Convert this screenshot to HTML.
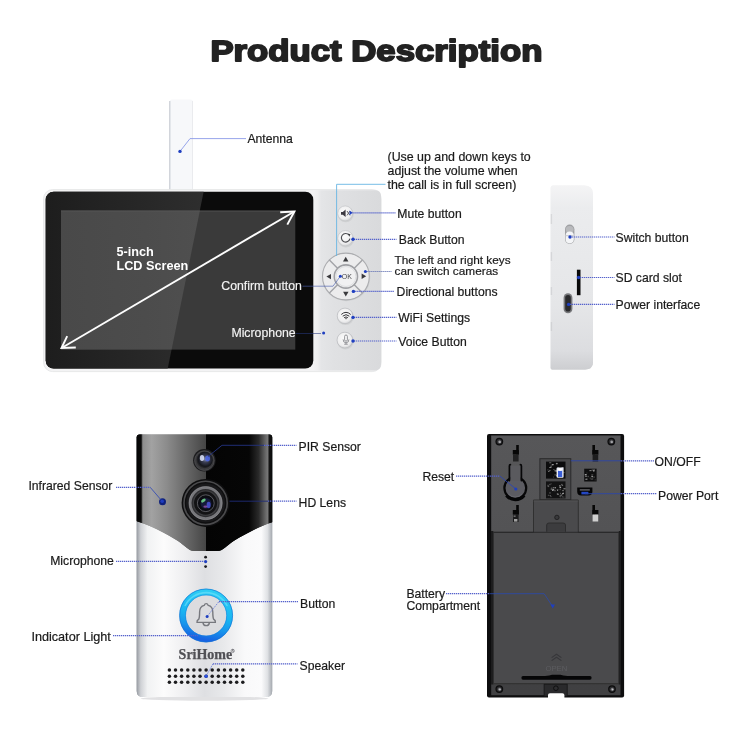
<!DOCTYPE html>
<html>
<head>
<meta charset="utf-8">
<title>Product Description</title>
<style>
html,body{margin:0;padding:0;background:#fff;}
body{width:750px;height:750px;overflow:hidden;position:relative;font-family:"Liberation Sans",sans-serif;}
svg{position:absolute;left:0;top:0;display:block;will-change:transform;}
text{font-family:"Liberation Sans",sans-serif;}
.lbl{font-size:12.2px;fill:#1a1a1a;stroke:#1a1a1a;stroke-width:0.2px;}
.wl{font-size:13px;fill:#fff;}
.dot{stroke:#5562cc;stroke-width:1.2;stroke-dasharray:1.3 0.7;fill:none;}
.pt{fill:#1f3fc0;}
</style>
</head>
<body>
<svg width="750" height="750" viewBox="0 0 750 750">
<defs>
  <linearGradient id="gScreen" x1="0" y1="0" x2="1" y2="0">
    <stop offset="0" stop-color="#4a4a4a"/>
    <stop offset="0.55" stop-color="#404040"/>
    <stop offset="0.56" stop-color="#333"/>
    <stop offset="1" stop-color="#2c2c2c"/>
  </linearGradient>
  <linearGradient id="gSilver" x1="0" y1="0" x2="1" y2="0">
    <stop offset="0" stop-color="#9aa0a6"/>
    <stop offset="0.08" stop-color="#e8eaec"/>
    <stop offset="0.5" stop-color="#f4f5f6"/>
    <stop offset="0.92" stop-color="#d4d7da"/>
    <stop offset="1" stop-color="#8e949a"/>
  </linearGradient>
  <linearGradient id="gSide" x1="0" y1="0" x2="1" y2="0">
    <stop offset="0" stop-color="#d8dadd"/>
    <stop offset="0.3" stop-color="#eceded"/>
    <stop offset="1" stop-color="#e4e5e7"/>
  </linearGradient>
  <linearGradient id="gPanel" x1="0" y1="0" x2="1" y2="0">
    <stop offset="0" stop-color="#f3f3f4"/>
    <stop offset="0.07" stop-color="#eeeeef"/>
    <stop offset="0.12" stop-color="#e4e5e7"/>
    <stop offset="0.3" stop-color="#e0e1e3"/>
    <stop offset="1" stop-color="#d9dadc"/>
  </linearGradient>
  <linearGradient id="gBezelL" gradientUnits="userSpaceOnUse" x1="45" y1="0" x2="205" y2="0">
    <stop offset="0" stop-color="#1d1d1d"/>
    <stop offset="1" stop-color="#2e2e2e"/>
  </linearGradient>
  <linearGradient id="gScrL" gradientUnits="userSpaceOnUse" x1="61" y1="0" x2="201" y2="0">
    <stop offset="0" stop-color="#494949"/>
    <stop offset="0.6" stop-color="#4c4c4c"/>
    <stop offset="1" stop-color="#4f4f4f"/>
  </linearGradient>
</defs>

<!-- TITLE -->
<g id="title">
<text transform="translate(210.4 61) scale(1.178 1)" x="0" y="0" font-size="29.5" font-weight="bold" fill="#222" stroke="#222" stroke-width="1.8" stroke-linejoin="round">Product Description</text>
</g>

<!-- MONITOR -->
<g id="monitor">
  <!-- antenna -->
  <rect x="169.5" y="99.5" width="23.5" height="96" rx="2.5" fill="#f7f8fa"/>
  <rect x="169.2" y="101" width="1.2" height="92" fill="#c9ccd4"/>
  <rect x="192.2" y="101" width="0.8" height="92" fill="#e6e8ec"/>
  <!-- body -->
  <rect x="43.6" y="189.6" width="337.6" height="182" rx="9" fill="#f3f3f4" stroke="#e2e3e5" stroke-width="0.8"/>
  <path d="M313 190.2 H375 Q381 190.2 381 196 V364.6 Q381 370.4 375 370.4 H313 Z" fill="url(#gPanel)"/>
  <!-- bezel -->
  <clipPath id="cpBezel"><rect x="45.7" y="191.7" width="267.6" height="176.8" rx="8"/></clipPath>
  <rect x="45.7" y="191.7" width="267.6" height="176.8" rx="8" fill="#0b0b0b"/>
  <g clip-path="url(#cpBezel)">
    <path d="M40 185 H205 L167 372 H40 Z" fill="url(#gBezelL)"/>
    <rect x="61" y="210.4" width="234.3" height="139.2" fill="#3a3a3a"/>
    <clipPath id="cpScr"><rect x="61" y="210.4" width="234.3" height="139.2"/></clipPath>
    <g clip-path="url(#cpScr)">
      <path d="M55 205 H201 L170.5 355 H55 Z" fill="url(#gScrL)"/>
      <rect x="61" y="210.4" width="234.3" height="1.2" fill="#5a5a5a" opacity="0.6"/>
    </g>
  </g>
  <!-- diagonal arrow -->
  <g stroke="#fdfdfd" stroke-width="1.9" fill="none" stroke-linecap="butt" stroke-linejoin="miter">
    <line x1="62" y1="347.7" x2="294" y2="211.7"/>
    <polyline points="280.2,212.2 294.4,211.5 287.3,224.6"/>
    <polyline points="67.2,336.2 61.5,348 75.8,347.5"/>
  </g>
  <text x="116.4" y="256.4" font-size="12.7" font-weight="bold" fill="#fff">5-inch</text>
  <text x="116.4" y="269.6" font-size="12.7" font-weight="bold" fill="#fff">LCD Screen</text>
  <text x="221.3" y="290.1" font-size="12.3" fill="#f4f4f4" stroke="#f4f4f4" stroke-width="0.15">Confirm button</text>
  <text x="231.4" y="337.1" font-size="12.3" fill="#f4f4f4" stroke="#f4f4f4" stroke-width="0.15">Microphone</text>
</g>

<!-- BUTTONS -->
<g id="buttons">
  <defs>
    <radialGradient id="gBtn" cx="0.45" cy="0.4" r="0.6">
      <stop offset="0" stop-color="#fbfbfb"/>
      <stop offset="0.75" stop-color="#eeeeef"/>
      <stop offset="1" stop-color="#d4d5d7"/>
    </radialGradient>
  </defs>
  <!-- mute -->
  <circle cx="345.7" cy="214.3" r="8" fill="#c9cacc" opacity="0.7"/>
  <circle cx="345.2" cy="213.4" r="7.5" fill="url(#gBtn)" stroke="#c4c5c8" stroke-width="0.7"/>
  <path d="M341 211.9 h1.8 l2.8 -2.4 v7.6 l-2.8 -2.4 h-1.8 z" fill="#3c3a42"/>
  <path d="M347 211 l3 4.4 M350 211 l-3 4.4" stroke="#55555c" stroke-width="0.9" fill="none"/>
  <!-- back -->
  <circle cx="345.9" cy="239.2" r="8.2" fill="#c9cacc" opacity="0.7"/>
  <circle cx="345.4" cy="238.2" r="7.7" fill="url(#gBtn)" stroke="#c4c5c8" stroke-width="0.7"/>
  <path d="M348.9 234.9 A4.3 4.3 0 1 0 349.9 238.6" stroke="#4c4d51" stroke-width="1.15" fill="none"/>
  <path d="M347.6 233.4 l2.8 0.8 l-1 2.6 z" fill="#3a3b3f"/>
  <!-- dpad -->
  <circle cx="346.3" cy="277.2" r="24" fill="#c8c9cb" opacity="0.6"/>
  <circle cx="345.9" cy="276.5" r="23.4" fill="#ececed" stroke="#acadb0" stroke-width="1.1"/>
  <g stroke="#a2a3a7" stroke-width="1.4">
    <line x1="329.4" y1="260" x2="337.8" y2="268.4"/>
    <line x1="362.4" y1="260" x2="354" y2="268.4"/>
    <line x1="329.4" y1="293" x2="337.8" y2="284.6"/>
    <line x1="362.4" y1="293" x2="354" y2="284.6"/>
  </g>
  <circle cx="345.9" cy="276.5" r="11.6" fill="#f1f1f2" stroke="#9fa0a4" stroke-width="1.6"/><circle cx="345.9" cy="276.5" r="10" fill="none" stroke="#dedfe1" stroke-width="1"/>
  <path d="M345.7 256.8 l2.7 4.6 h-5.4 z" fill="#3a3a3d"/>
  <path d="M345.8 296.4 l2.7 -4.6 h-5.4 z" fill="#3a3a3d"/>
  <path d="M326.4 276.6 l4.6 -2.7 v5.4 z" fill="#3a3a3d"/>
  <path d="M366.2 276.2 l-4.6 -2.7 v5.4 z" fill="#3a3a3d"/>
  <text x="346.8" y="279.1" font-size="7" fill="#4a4a4e" text-anchor="middle">OK</text>
  <!-- wifi -->
  <circle cx="345.5" cy="316.8" r="8.3" fill="#c9cacc" opacity="0.7"/>
  <circle cx="345" cy="315.9" r="7.8" fill="url(#gBtn)" stroke="#bdbec1" stroke-width="0.8"/>
  <g stroke="#333337" stroke-width="1" fill="none" stroke-linecap="round">
    <path d="M341.6 314.2 Q346 310.2 350.4 314.2"/>
    <path d="M343 315.9 Q346 313.2 349 315.9"/>
    <path d="M344.4 317.5 Q346 316.1 347.6 317.5"/>
  </g>
  <path d="M345 318.2 h2 l-1 1.4 z" fill="#222226"/>
  <!-- voice -->
  <circle cx="345.4" cy="341" r="8.4" fill="#c9cacc" opacity="0.7"/>
  <circle cx="344.9" cy="340.1" r="7.9" fill="url(#gBtn)" stroke="#bdbec1" stroke-width="0.8"/>
  <rect x="344.6" y="335" width="2.8" height="6.2" rx="1.4" fill="none" stroke="#7e7f84" stroke-width="0.8"/>
  <path d="M343.1 339.4 Q343.1 342.8 346 342.8 Q348.9 342.8 348.9 339.4 M346 342.8 v1.4 M344.2 344.2 h3.6" stroke="#7e7f84" stroke-width="0.8" fill="none"/>
</g>

<!-- SIDE VIEW -->
<g id="side">
  <defs>
    <linearGradient id="gSideV" x1="0" y1="0" x2="0" y2="1">
      <stop offset="0" stop-color="#f4f4f5"/>
      <stop offset="0.12" stop-color="#ebecee"/>
      <stop offset="0.65" stop-color="#e5e6e8"/>
      <stop offset="0.9" stop-color="#dcdde0"/>
      <stop offset="1" stop-color="#cdced1"/>
    </linearGradient>
    <linearGradient id="gSideH" x1="0" y1="0" x2="1" y2="0">
      <stop offset="0" stop-color="#9a9ba0" stop-opacity="0.5"/>
      <stop offset="0.05" stop-color="#c0c1c5" stop-opacity="0.2"/>
      <stop offset="0.18" stop-color="#ffffff" stop-opacity="0"/>
      <stop offset="0.85" stop-color="#ffffff" stop-opacity="0.15"/>
      <stop offset="1" stop-color="#ffffff" stop-opacity="0.4"/>
    </linearGradient>
  </defs>
  <path id="sideBody" d="M550.7 187.4 Q550.7 185.4 553 185.4 H584 Q593 185.4 593 194 V362 Q593 369.4 585 369.4 H552 Q550.7 369.4 550.7 368 Z" fill="url(#gSideV)"/>
  <use href="#sideBody" fill="url(#gSideH)"/>
  <g fill="#b4b5b9" opacity="0.35"><rect x="550.7" y="214" width="1.4" height="10"/><rect x="550.7" y="252" width="1.4" height="9"/><rect x="550.7" y="287" width="1.4" height="8"/><rect x="550.7" y="322" width="1.4" height="9"/></g>
  <!-- switch -->
  <rect x="565" y="224.6" width="9.4" height="19.4" rx="4.7" fill="#9fa0a3"/>
  <rect x="565.8" y="226" width="7.8" height="7" rx="3.6" fill="#b9babd"/>
  <rect x="565.6" y="231.4" width="8.2" height="12" rx="4.1" fill="#f4f5f7"/>
  <rect x="565.6" y="235.2" width="8.2" height="1" fill="#c6c7cc"/>
  <!-- sd -->
  <rect x="576.9" y="269.7" width="3.6" height="25.5" fill="#0a0a0a"/>
  <!-- power -->
  <rect x="563.6" y="293.3" width="8.8" height="20" rx="4.4" fill="#77787b"/>
  <rect x="565.2" y="295" width="5.6" height="16.6" rx="2.8" fill="#2a2a2c"/>
</g>

<!-- DOORBELL FRONT -->
<g id="front">
  <defs>
    <linearGradient id="gSilv" gradientUnits="userSpaceOnUse" x1="136.7" y1="0" x2="272.2" y2="0">
      <stop offset="0" stop-color="#979ba2"/>
      <stop offset="0.03" stop-color="#cfd1d5"/>
      <stop offset="0.08" stop-color="#f1f2f3"/>
      <stop offset="0.2" stop-color="#fcfcfc"/>
      <stop offset="0.36" stop-color="#eeeef0"/>
      <stop offset="0.5" stop-color="#dedfe2"/>
      <stop offset="0.64" stop-color="#e8e9eb"/>
      <stop offset="0.8" stop-color="#f9f9fa"/>
      <stop offset="0.92" stop-color="#fbfbfc"/>
      <stop offset="0.965" stop-color="#dfe1e4"/>
      <stop offset="1" stop-color="#a5a9af"/>
    </linearGradient>
    <linearGradient id="gSilvV" x1="0" y1="0" x2="0" y2="1">
      <stop offset="0" stop-color="#fff" stop-opacity="0"/>
      <stop offset="0.93" stop-color="#fff" stop-opacity="0"/>
      <stop offset="0.975" stop-color="#9a9da3" stop-opacity="0.45"/>
      <stop offset="1" stop-color="#70737a" stop-opacity="0.7"/>
    </linearGradient>
    <linearGradient id="gGlass" gradientUnits="userSpaceOnUse" x1="136.7" y1="0" x2="272.2" y2="0">
      <stop offset="0" stop-color="#050505"/>
      <stop offset="0.033" stop-color="#0a0a0a"/>
      <stop offset="0.045" stop-color="#8e8e8e"/>
      <stop offset="0.11" stop-color="#a2a2a2"/>
      <stop offset="0.22" stop-color="#8c8c8c"/>
      <stop offset="0.35" stop-color="#6c6c6c"/>
      <stop offset="0.508" stop-color="#464646"/>
      <stop offset="0.512" stop-color="#040404"/>
      <stop offset="0.83" stop-color="#060606"/>
      <stop offset="0.9" stop-color="#2a2a2a"/>
      <stop offset="0.955" stop-color="#6c6c6c"/>
      <stop offset="0.97" stop-color="#7a7a7a"/>
      <stop offset="0.975" stop-color="#161616"/>
      <stop offset="1" stop-color="#0a0a0a"/>
    </linearGradient>
    <linearGradient id="gGlassV" x1="0" y1="0" x2="0" y2="1">
      <stop offset="0" stop-color="#000" stop-opacity="0.75"/>
      <stop offset="0.03" stop-color="#000" stop-opacity="0.4"/>
      <stop offset="0.1" stop-color="#000" stop-opacity="0.05"/>
      <stop offset="0.55" stop-color="#000" stop-opacity="0"/>
      <stop offset="1" stop-color="#000" stop-opacity="0.4"/>
    </linearGradient>
    <linearGradient id="gRing" x1="0.6" y1="0" x2="0.4" y2="1">
      <stop offset="0" stop-color="#2ccdf4"/>
      <stop offset="0.5" stop-color="#19b4f1"/>
      <stop offset="0.75" stop-color="#1896ec"/>
      <stop offset="1" stop-color="#1763e2"/>
    </linearGradient>
    <radialGradient id="gPir" cx="0.55" cy="0.45" r="0.55">
      <stop offset="0" stop-color="#8a93b8"/>
      <stop offset="0.35" stop-color="#3b3f55"/>
      <stop offset="0.8" stop-color="#16171c"/>
      <stop offset="1" stop-color="#2a2a2c"/>
    </radialGradient>
  </defs>
  <ellipse cx="204.5" cy="698.5" rx="64" ry="2.2" fill="#d9dadc" opacity="0.8"/>
  <path id="fBody" d="M136.7 437.6 Q136.7 434.6 139.7 434.6 H269.2 Q272.2 434.6 272.2 437.6 V691 Q272.2 697 266 697 H143 Q136.7 697 136.7 691 Z" fill="url(#gSilv)"/>
  <use href="#fBody" fill="url(#gSilvV)"/>
  <clipPath id="cpF"><use href="#fBody"/></clipPath>
  <g clip-path="url(#cpF)">
    <path id="fGlass" d="M136 430 H276 V521 C261.6 525 246.6 533 233.6 541 C226.6 545.5 223.6 550.6 217.6 551 H194 C188 550.6 185 545.5 178 541 C165 533 150 525 136 521 Z" fill="url(#gGlass)"/>
    <use href="#fGlass" fill="url(#gGlassV)"/>
  </g>
  <!-- PIR -->
  <circle cx="204.4" cy="460.2" r="11.3" fill="#1b1b1d"/>
  <circle cx="204.4" cy="460.6" r="9.8" fill="#3a3a3d" stroke="#505053" stroke-width="0.8"/>
  <circle cx="204.6" cy="460" r="8.2" fill="url(#gPir)"/>
  <ellipse cx="202" cy="458" rx="2.2" ry="3" fill="#dfe6ff" opacity="0.85"/>
  <ellipse cx="207.6" cy="458.6" rx="2.4" ry="3" fill="#4c66e0" opacity="0.9"/>
  <!-- lens -->
  <circle cx="205.6" cy="502.9" r="24" fill="#0e0e0f"/>
  <circle cx="205.6" cy="502.9" r="21.6" fill="none" stroke="#4a4a4c" stroke-width="1.6"/>
  <circle cx="205.6" cy="502.9" r="19.5" fill="#19191b"/>
  <circle cx="205.6" cy="503.1" r="15.4" fill="#2c2c2f" stroke="#77777b" stroke-width="2.6"/>
  <circle cx="205.6" cy="503.1" r="16.6" fill="none" stroke="#a4a4a8" stroke-width="0.6" opacity="0.8"/>
  <circle cx="205.6" cy="503.1" r="12.2" fill="#131315" stroke="#3d3d40" stroke-width="1.2"/>
  <circle cx="205.8" cy="503.2" r="8.4" fill="#0b0c12" stroke="#6a6a70" stroke-width="0.8"/>
  <circle cx="206" cy="503.4" r="5.4" fill="#161a3a"/>
  <ellipse cx="203.4" cy="500.6" rx="2.6" ry="1.5" transform="rotate(-35 203.4 500.6)" fill="#6fd08a" opacity="0.9"/>
  <ellipse cx="208.6" cy="505" rx="2" ry="3.2" fill="#4a54d8" opacity="0.85"/>
  <ellipse cx="205.4" cy="506.6" rx="2" ry="1.2" fill="#a85ac0" opacity="0.7"/>
  <!-- IR -->
  <circle cx="162.5" cy="501.8" r="3.5" fill="#10227c"/>
  <circle cx="162.2" cy="501.2" r="1.8" fill="#1e3cc0"/>
  <!-- mic dots -->
  <circle cx="205.6" cy="557.2" r="1.4" fill="#1c1c1e"/>
  <circle cx="205.6" cy="566.6" r="1.4" fill="#1c1c1e"/>
  <!-- button -->
  <circle cx="206.1" cy="615.5" r="20.5" fill="#dcdcdf"/>
  <circle cx="206.1" cy="615.5" r="23.5" fill="none" stroke="url(#gRing)" stroke-width="6.4"/>
  <circle cx="206.1" cy="615.5" r="26.5" fill="none" stroke="#1372d4" stroke-width="0.8" opacity="0.85"/>
  <circle cx="206.1" cy="615.5" r="20.6" fill="none" stroke="#1480dc" stroke-width="0.7" opacity="0.8"/>
  <path d="M185.2 605.5 A23.4 23.4 0 0 1 227 605.5" fill="none" stroke="#7be4fb" stroke-width="1.6" opacity="0.55" stroke-linecap="round"/>
  
  <g fill="none" stroke="#77787e" stroke-width="1.4">
    <path d="M197 622.4 H215.4 Q215.8 620.6 213.6 619.2 Q212.8 617.4 212.8 612 Q212.8 606.4 208.2 605.4 Q207.6 603.6 206.2 603.6 Q204.8 603.6 204.2 605.4 Q199.6 606.4 199.6 612 Q199.6 617.4 198.8 619.2 Q196.6 620.6 197 622.4 Z"/>
    <path d="M203 622.6 Q203.2 625.6 206.2 625.6 Q209.2 625.6 209.4 622.6"/>
  </g>
  <!-- brand -->
  <text x="178.6" y="659.2" font-family="Liberation Serif, serif" style="font-family:'Liberation Serif',serif" font-weight="bold" font-size="14" fill="#515156" stroke="#515156" stroke-width="0.25">SriHome</text>
  <circle cx="232.7" cy="650.9" r="1.7" fill="none" stroke="#6a6a70" stroke-width="0.6"/><text x="232.7" y="651.9" text-anchor="middle" font-size="2.8" font-weight="bold" fill="#6a6a70">R</text>
  <!-- speaker -->
  <g fill="#1c1c1e"><circle cx="169.4" cy="669.9" r="1.75"/><circle cx="175.5" cy="669.9" r="1.75"/><circle cx="181.6" cy="669.9" r="1.75"/><circle cx="187.8" cy="669.9" r="1.75"/><circle cx="193.9" cy="669.9" r="1.75"/><circle cx="200.0" cy="669.9" r="1.75"/><circle cx="206.1" cy="669.9" r="1.75"/><circle cx="212.2" cy="669.9" r="1.75"/><circle cx="218.4" cy="669.9" r="1.75"/><circle cx="224.5" cy="669.9" r="1.75"/><circle cx="230.6" cy="669.9" r="1.75"/><circle cx="236.7" cy="669.9" r="1.75"/><circle cx="242.8" cy="669.9" r="1.75"/><circle cx="169.4" cy="676.2" r="1.75"/><circle cx="175.5" cy="676.2" r="1.75"/><circle cx="181.6" cy="676.2" r="1.75"/><circle cx="187.8" cy="676.2" r="1.75"/><circle cx="193.9" cy="676.2" r="1.75"/><circle cx="200.0" cy="676.2" r="1.75"/><circle cx="206.1" cy="676.2" r="1.75"/><circle cx="212.2" cy="676.2" r="1.75"/><circle cx="218.4" cy="676.2" r="1.75"/><circle cx="224.5" cy="676.2" r="1.75"/><circle cx="230.6" cy="676.2" r="1.75"/><circle cx="236.7" cy="676.2" r="1.75"/><circle cx="242.8" cy="676.2" r="1.75"/><circle cx="169.4" cy="682.2" r="1.75"/><circle cx="175.5" cy="682.2" r="1.75"/><circle cx="181.6" cy="682.2" r="1.75"/><circle cx="187.8" cy="682.2" r="1.75"/><circle cx="193.9" cy="682.2" r="1.75"/><circle cx="200.0" cy="682.2" r="1.75"/><circle cx="206.1" cy="682.2" r="1.75"/><circle cx="212.2" cy="682.2" r="1.75"/><circle cx="218.4" cy="682.2" r="1.75"/><circle cx="224.5" cy="682.2" r="1.75"/><circle cx="230.6" cy="682.2" r="1.75"/><circle cx="236.7" cy="682.2" r="1.75"/><circle cx="242.8" cy="682.2" r="1.75"/></g>
</g>

<!-- DOORBELL BACK -->
<g id="back">
  <defs>
    <linearGradient id="gBack" x1="0" y1="0" x2="0" y2="1">
      <stop offset="0" stop-color="#575759"/>
      <stop offset="0.37" stop-color="#535355"/>
      <stop offset="0.4" stop-color="#424244"/>
      <stop offset="1" stop-color="#404042"/>
    </linearGradient>
  </defs>
  <path d="M487 436 Q487 434 489 434 H622.1 Q624.1 434 624.1 436 V695.6 Q624.1 697.6 622.1 697.6 H489 Q487 697.6 487 695.6 Z" fill="#0d0d0e"/>
  <rect x="491.2" y="435.6" width="129.3" height="259.6" fill="url(#gBack)"/>
  <rect x="491.2" y="435.6" width="129.3" height="1" fill="#555557" opacity="0.6"/>
  <circle cx="499.3" cy="441.6" r="3.9" fill="#0c0c0d"/><circle cx="499.3" cy="441.6" r="2.6" fill="#2e2e30"/><circle cx="499.6" cy="441.8" r="1.5" fill="#7c7c80"/><circle cx="499.90000000000003" cy="442.1" r="0.8" fill="#c4c4c6"/><circle cx="611.3" cy="441.6" r="3.9" fill="#0c0c0d"/><circle cx="611.3" cy="441.6" r="2.6" fill="#2e2e30"/><circle cx="611.5999999999999" cy="441.8" r="1.5" fill="#7c7c80"/><circle cx="611.9" cy="442.1" r="0.8" fill="#c4c4c6"/><circle cx="499.3" cy="689.1" r="3.9" fill="#0c0c0d"/><circle cx="499.3" cy="689.1" r="2.6" fill="#2e2e30"/><circle cx="499.6" cy="689.3000000000001" r="1.5" fill="#7c7c80"/><circle cx="499.90000000000003" cy="689.6" r="0.8" fill="#c4c4c6"/><circle cx="612" cy="689.1" r="3.9" fill="#0c0c0d"/><circle cx="612" cy="689.1" r="2.6" fill="#2e2e30"/><circle cx="612.3" cy="689.3000000000001" r="1.5" fill="#7c7c80"/><circle cx="612.6" cy="689.6" r="0.8" fill="#c4c4c6"/>
  <!-- hooks -->
  <rect x="516.1999999999999" y="445" width="2.6" height="9.5" fill="#070707"/><rect x="512.8" y="450" width="6" height="4.6" fill="#070707"/><rect x="513.0" y="454.5" width="5.6" height="7" fill="#222223"/><rect x="592.4" y="445" width="2.6" height="9.5" fill="#070707"/><rect x="592.4" y="450" width="6" height="4.6" fill="#070707"/><rect x="592.6" y="454.5" width="5.6" height="7" fill="#1c1c1d"/>
  <rect x="516.1999999999999" y="505" width="2.6" height="9.5" fill="#070707"/><rect x="512.8" y="510" width="6" height="4.6" fill="#070707"/><rect x="513.0" y="514.5" width="5.6" height="7.5" fill="#1d1d1e"/><rect x="514" y="519" width="3.4" height="2.6" fill="#b8b8b8" opacity="0.85"/><rect x="513.6" y="515.4" width="2" height="1.6" fill="#8a8a8a" opacity="0.7"/><rect x="592.4" y="505" width="2.6" height="9.5" fill="#070707"/><rect x="592.4" y="510" width="6" height="4.6" fill="#070707"/><rect x="592.6" y="514.5" width="5.6" height="7" fill="#cfcfcf"/>
  <!-- reset keyhole -->
  <circle cx="515.3" cy="488" r="10.9" fill="#5c5c62" stroke="#070708" stroke-width="2.2"/>
  <path d="M506.4 495.5 A11.6 11.6 0 0 0 524.2 495.5" fill="none" stroke="#050506" stroke-width="3.2"/>
  <rect x="510.2" y="465.6" width="10.6" height="15.4" fill="#5a5a5e"/>
  <path d="M509.4 480.6 V466 Q509.4 464.6 510.4 464.6" fill="none" stroke="#070708" stroke-width="1.7" stroke-linecap="round"/>
  <path d="M521.4 480.6 V466 Q521.4 464.6 520.4 464.6" fill="none" stroke="#070708" stroke-width="1.7" stroke-linecap="round"/>
  <path d="M508.6 494 A9 9 0 0 0 522 494" fill="none" stroke="#77777c" stroke-width="0.7" opacity="0.7"/>
  <!-- circuit window -->
  <rect x="539.9" y="458.7" width="30.9" height="41" fill="#4a4a4c" stroke="#2a2a2b" stroke-width="1"/>
  <rect x="546" y="461.6" width="19.5" height="17" fill="#0c0c0d"/>
  <rect x="546" y="481.4" width="19.5" height="17" fill="#121213"/>
  <rect x="552.0" y="464.2" width="1.7" height="0.7" fill="#d8d8d8" opacity="0.51"/><rect x="547.5" y="469.5" width="0.9" height="0.9" fill="#d8d8d8" opacity="0.46"/><rect x="555.9" y="462.9" width="1.6" height="1.4" fill="#d8d8d8" opacity="0.61"/><rect x="553.2" y="476.4" width="0.9" height="1.3" fill="#6a6a6a" opacity="0.54"/><rect x="555.7" y="470.4" width="1.6" height="1.1" fill="#d8d8d8" opacity="0.61"/><rect x="557.4" y="467.5" width="1.6" height="0.7" fill="#d8d8d8" opacity="0.63"/><rect x="554.9" y="469.9" width="1.9" height="1.0" fill="#bdbdbd" opacity="0.51"/><rect x="550.7" y="464.7" width="1.9" height="0.7" fill="#6a6a6a" opacity="0.59"/><rect x="561.4" y="472.8" width="1.2" height="1.4" fill="#d8d8d8" opacity="0.58"/><rect x="549.3" y="467.1" width="2.1" height="0.9" fill="#d8d8d8" opacity="0.69"/><rect x="556.2" y="475.0" width="1.2" height="1.2" fill="#bdbdbd" opacity="0.61"/><rect x="554.3" y="474.4" width="2.1" height="1.0" fill="#d8d8d8" opacity="0.38"/><rect x="558.4" y="471.6" width="2.2" height="1.3" fill="#6a6a6a" opacity="0.67"/><rect x="561.6" y="467.1" width="2.1" height="0.9" fill="#d8d8d8" opacity="0.57"/><rect x="550.2" y="466.3" width="1.8" height="0.9" fill="#bdbdbd" opacity="0.39"/><rect x="554.1" y="470.1" width="2.0" height="1.3" fill="#6a6a6a" opacity="0.67"/><rect x="563.3" y="472.1" width="1.3" height="0.8" fill="#d8d8d8" opacity="0.43"/><rect x="550.4" y="465.5" width="1.5" height="1.1" fill="#6a6a6a" opacity="0.48"/><rect x="549.0" y="469.9" width="1.7" height="0.9" fill="#9a9a9a" opacity="0.66"/><rect x="555.3" y="471.1" width="1.7" height="0.6" fill="#bdbdbd" opacity="0.53"/><rect x="553.2" y="469.1" width="1.4" height="0.8" fill="#9a9a9a" opacity="0.55"/><rect x="548.4" y="470.9" width="0.9" height="1.1" fill="#d8d8d8" opacity="0.78"/><rect x="556.9" y="463.0" width="1.1" height="0.9" fill="#6a6a6a" opacity="0.78"/><rect x="556.7" y="469.0" width="1.0" height="1.0" fill="#bdbdbd" opacity="0.57"/><rect x="551.8" y="464.1" width="1.8" height="1.2" fill="#bdbdbd" opacity="0.72"/><rect x="549.2" y="462.3" width="2.1" height="1.0" fill="#9a9a9a" opacity="0.66"/>
  <rect x="562.0" y="493.2" width="1.2" height="1.1" fill="#d8d8d8" opacity="0.66"/><rect x="550.9" y="487.4" width="1.0" height="1.2" fill="#6a6a6a" opacity="0.64"/><rect x="556.9" y="493.7" width="1.9" height="0.8" fill="#9a9a9a" opacity="0.72"/><rect x="559.1" y="485.4" width="1.5" height="0.9" fill="#d8d8d8" opacity="0.80"/><rect x="559.9" y="489.0" width="1.1" height="1.1" fill="#6a6a6a" opacity="0.55"/><rect x="562.4" y="496.6" width="2.1" height="0.9" fill="#9a9a9a" opacity="0.40"/><rect x="554.5" y="487.0" width="1.5" height="1.4" fill="#d8d8d8" opacity="0.57"/><rect x="557.6" y="493.8" width="0.9" height="1.1" fill="#bdbdbd" opacity="0.70"/><rect x="559.3" y="489.1" width="1.0" height="1.2" fill="#6a6a6a" opacity="0.39"/><rect x="562.6" y="492.7" width="1.4" height="1.2" fill="#d8d8d8" opacity="0.68"/><rect x="549.4" y="483.9" width="1.0" height="1.3" fill="#9a9a9a" opacity="0.63"/><rect x="556.6" y="489.0" width="2.1" height="0.7" fill="#9a9a9a" opacity="0.36"/><rect x="560.1" y="492.8" width="0.9" height="1.2" fill="#9a9a9a" opacity="0.55"/><rect x="561.3" y="494.2" width="1.1" height="0.8" fill="#6a6a6a" opacity="0.58"/><rect x="559.5" y="486.8" width="1.6" height="1.3" fill="#d8d8d8" opacity="0.76"/><rect x="552.5" y="488.8" width="1.6" height="1.3" fill="#bdbdbd" opacity="0.72"/><rect x="561.4" y="483.9" width="1.0" height="1.0" fill="#bdbdbd" opacity="0.70"/><rect x="556.8" y="493.5" width="1.0" height="0.7" fill="#d8d8d8" opacity="0.60"/><rect x="552.0" y="489.7" width="1.6" height="1.2" fill="#d8d8d8" opacity="0.75"/><rect x="547.5" y="484.8" width="0.9" height="0.7" fill="#bdbdbd" opacity="0.60"/><rect x="559.4" y="495.5" width="1.4" height="1.1" fill="#9a9a9a" opacity="0.66"/><rect x="554.2" y="489.9" width="1.5" height="1.4" fill="#6a6a6a" opacity="0.77"/><rect x="561.7" y="485.0" width="1.4" height="0.9" fill="#bdbdbd" opacity="0.55"/><rect x="547.7" y="485.6" width="0.9" height="1.1" fill="#d8d8d8" opacity="0.75"/><rect x="549.1" y="492.6" width="1.7" height="0.7" fill="#9a9a9a" opacity="0.79"/><rect x="550.2" y="496.1" width="1.4" height="1.0" fill="#9a9a9a" opacity="0.42"/><rect x="553.8" y="489.6" width="1.3" height="0.8" fill="#6a6a6a" opacity="0.39"/><rect x="552.7" y="487.0" width="1.4" height="1.2" fill="#bdbdbd" opacity="0.50"/><rect x="557.1" y="489.6" width="0.9" height="1.4" fill="#9a9a9a" opacity="0.79"/><rect x="548.3" y="485.9" width="0.9" height="1.2" fill="#6a6a6a" opacity="0.69"/><rect x="560.4" y="494.6" width="1.7" height="1.4" fill="#bdbdbd" opacity="0.42"/><rect x="562.1" y="490.4" width="1.8" height="0.7" fill="#d8d8d8" opacity="0.71"/><rect x="549.6" y="495.3" width="1.2" height="0.6" fill="#d8d8d8" opacity="0.71"/><rect x="547.9" y="494.7" width="0.9" height="1.3" fill="#bdbdbd" opacity="0.36"/><rect x="563.4" y="488.2" width="2.1" height="1.1" fill="#d8d8d8" opacity="0.59"/><rect x="550.6" y="483.6" width="1.0" height="0.6" fill="#9a9a9a" opacity="0.77"/><rect x="557.2" y="489.9" width="1.1" height="1.0" fill="#9a9a9a" opacity="0.47"/><rect x="560.2" y="496.7" width="0.9" height="0.6" fill="#9a9a9a" opacity="0.58"/><rect x="550.7" y="488.6" width="1.7" height="1.1" fill="#bdbdbd" opacity="0.60"/><rect x="561.6" y="496.4" width="1.2" height="0.8" fill="#9a9a9a" opacity="0.50"/>
  <rect x="556.6" y="467.4" width="7" height="10.4" rx="1" fill="#e9ecf6"/>
  <rect x="558" y="470.6" width="4.2" height="6.4" fill="#3a5fd8"/>
  <rect x="558.4" y="468.4" width="3.4" height="2.4" fill="#fff"/>
  <!-- right chip -->
  <rect x="584.2" y="468.7" width="12.4" height="12.8" fill="#0e0e0f"/>
  <rect x="593.2" y="476.6" width="1.7" height="0.9" fill="#6a6a6a" opacity="0.79"/><rect x="593.2" y="469.2" width="1.7" height="1.3" fill="#bdbdbd" opacity="0.42"/><rect x="585.5" y="478.1" width="2.0" height="1.1" fill="#6a6a6a" opacity="0.62"/><rect x="591.7" y="469.5" width="1.1" height="0.8" fill="#d8d8d8" opacity="0.47"/><rect x="594.5" y="479.5" width="1.6" height="0.8" fill="#6a6a6a" opacity="0.45"/><rect x="586.5" y="472.6" width="0.9" height="0.8" fill="#9a9a9a" opacity="0.46"/><rect x="592.6" y="470.0" width="1.9" height="0.7" fill="#d8d8d8" opacity="0.53"/><rect x="587.7" y="475.8" width="0.9" height="1.4" fill="#9a9a9a" opacity="0.65"/><rect x="592.0" y="478.5" width="1.3" height="0.9" fill="#bdbdbd" opacity="0.42"/><rect x="592.1" y="475.9" width="0.9" height="1.3" fill="#bdbdbd" opacity="0.68"/><rect x="593.0" y="470.5" width="1.5" height="1.0" fill="#d8d8d8" opacity="0.72"/><rect x="590.6" y="478.6" width="1.8" height="1.2" fill="#9a9a9a" opacity="0.39"/><rect x="585.0" y="475.9" width="2.1" height="0.9" fill="#bdbdbd" opacity="0.60"/><rect x="591.1" y="475.8" width="1.8" height="1.0" fill="#d8d8d8" opacity="0.56"/><rect x="585.3" y="479.1" width="2.1" height="0.7" fill="#d8d8d8" opacity="0.69"/><rect x="589.5" y="477.7" width="2.0" height="0.8" fill="#9a9a9a" opacity="0.45"/><rect x="591.3" y="474.0" width="2.0" height="0.7" fill="#6a6a6a" opacity="0.70"/><rect x="591.0" y="475.9" width="0.9" height="0.7" fill="#6a6a6a" opacity="0.64"/><rect x="591.7" y="475.7" width="1.0" height="1.0" fill="#bdbdbd" opacity="0.47"/><rect x="591.5" y="476.5" width="1.7" height="0.8" fill="#6a6a6a" opacity="0.56"/><rect x="589.4" y="470.3" width="2.1" height="0.8" fill="#d8d8d8" opacity="0.77"/><rect x="584.8" y="474.0" width="1.9" height="1.4" fill="#bdbdbd" opacity="0.80"/>
  <!-- usb -->
  <path d="M577.2 487.6 H592.4 V491.4 Q592.4 495.4 588.4 495.4 H581.2 Q577.2 495.4 577.2 491.4 Z" fill="#050506"/>
  <rect x="579.8" y="489.2" width="10" height="1.4" fill="#8a8a90" opacity="0.7"/>
  <rect x="581.4" y="491.8" width="7" height="2.6" fill="#2448c8"/>
  <rect x="491" y="531" width="2.4" height="153.5" fill="#1c1c1d"/><rect x="618.8" y="531" width="2" height="153.5" fill="#1c1c1d"/>
  <!-- cover tab -->
  <path d="M493.4 532.3 H533.5 V500 H578.3 V532.3 H618.8 V683.7 H493.4 Z" fill="#4a4a4c" stroke="#2c2c2d" stroke-width="0.9"/>
  <line x1="493.4" y1="532.3" x2="618.8" y2="532.3" stroke="#262627" stroke-width="0.9"/>
  <line x1="533.5" y1="501" x2="578.3" y2="501" stroke="#58585a" stroke-width="0.7"/>
  <circle cx="556.9" cy="517.4" r="2.2" fill="#39393b" stroke="#1e1e1f" stroke-width="0.9"/>
  <path d="M546.7 531.8 V525 Q546.7 523 549 523 H563 Q565.5 523 565.5 525 V531.8" fill="#3c3c3e" stroke="#2a2a2b" stroke-width="0.9"/>
  <!-- OPEN -->
  <g fill="none" stroke="#37373a" stroke-width="1.1">
    <path d="M551.6 657.6 L556.5 654.2 L561.4 657.6"/>
    <path d="M551.6 660.6 L556.5 657.2 L561.4 660.6"/>
  </g>
  <text x="556.4" y="670.6" font-size="6.6" fill="#5c5c60" text-anchor="middle" textLength="22" lengthAdjust="spacingAndGlyphs">OPEN</text>
  <!-- slot -->
  <path d="M523 675.9 H545 Q550 675.9 552 674.8 H560.5 Q562.5 675.9 567.5 675.9 H590 Q591.6 675.9 591.6 677.8 Q591.6 679.8 590 679.8 H523 Q521.4 679.8 521.4 677.8 Q521.4 675.9 523 675.9 Z" fill="#060607"/>
  <!-- bottom latch -->
  <rect x="544.1" y="684.2" width="23.1" height="12" fill="#2a2a2c" stroke="#161617" stroke-width="0.8"/>
  <circle cx="555.9" cy="688.2" r="2.3" fill="#2e2e30" stroke="#0e0e0f" stroke-width="1"/>
  <path d="M548 699 V695 Q548 693.3 550 693.3 H562.4 Q564.4 693.3 564.4 695 V699 Z" fill="#ffffff"/>
</g>

<!-- LABELS -->
<g id="labels">
  <!-- monitor leaders -->
  <polyline points="180,151.4 190,138.6 246,138.6" fill="none" stroke="#8b9be8" stroke-width="0.9"/>
  <circle cx="180" cy="151.4" r="1.7" class="pt"/>
  <polyline points="385.5,184.3 336.6,184.3 336.6,256" fill="none" stroke="#68b6e3" stroke-width="0.9"/>
  <line x1="352.4" y1="212.8" x2="395.5" y2="212.8" class="dot"/>
  <path d="M349.6 210.4 L352.6 212.8 L349.6 215.2 Z" class="pt"/>
  <line x1="354" y1="239.3" x2="396.5" y2="239.3" class="dot"/>
  <circle cx="353" cy="239.3" r="1.7" class="pt"/>
  <line x1="366.5" y1="271.5" x2="391.5" y2="271.5" class="dot" style="stroke:#6f7db8"/>
  <circle cx="365.4" cy="271.5" r="1.5" class="pt"/>
  <line x1="354.5" y1="291.4" x2="394.5" y2="291.4" class="dot"/>
  <circle cx="353.4" cy="291.4" r="1.7" class="pt"/>
  <polyline points="302.5,286.2 333,286.2 340.4,276.2" fill="none" stroke="#4a5fae" stroke-width="0.8" opacity="0.8"/>
  <circle cx="340.4" cy="276.2" r="1.5" class="pt"/>
  <line x1="354" y1="317.4" x2="396.5" y2="317.4" class="dot"/>
  <circle cx="353" cy="317.4" r="1.7" class="pt"/>
  <line x1="354" y1="341" x2="396.5" y2="341" class="dot"/>
  <circle cx="353" cy="341" r="1.7" class="pt"/>
  <line x1="296" y1="333.4" x2="321" y2="333.4" stroke="#27387e" stroke-width="0.8" opacity="0.8"/>
  <circle cx="323.6" cy="333" r="1.5" class="pt"/>
  <!-- monitor labels -->
  <text class="lbl" x="247.4" y="142.9">Antenna</text>
  <text class="lbl" style="font-size:12.4px" x="387.5" y="160.6">(Use up and down keys to</text>
  <text class="lbl" style="font-size:12.4px" x="387.5" y="174.8">adjust the volume when</text>
  <text class="lbl" style="font-size:12.4px" x="387.5" y="188.9">the call is in full screen)</text>
  <text class="lbl" x="397.3" y="217.9">Mute button</text>
  <text class="lbl" x="398.8" y="244.2">Back Button</text>
  <text class="lbl" style="font-size:11.8px" x="394.5" y="263.9">The left and right keys</text>
  <text class="lbl" style="font-size:11.8px" x="394.5" y="274.9">can switch cameras</text>
  <text class="lbl" x="396.6" y="296.3">Directional buttons</text>
  <text class="lbl" x="398.3" y="321.6">WiFi Settings</text>
  <text class="lbl" x="398.3" y="345.6">Voice Button</text>
  <!-- side leaders/labels -->
  <line x1="572" y1="237" x2="614.5" y2="237" class="dot"/>
  <circle cx="570" cy="237" r="1.7" class="pt"/>
  <line x1="580" y1="277.5" x2="614.5" y2="277.5" class="dot"/>
  <circle cx="578.6" cy="277.5" r="1.7" class="pt"/>
  <line x1="570" y1="304.4" x2="614.5" y2="304.4" class="dot"/>
  <circle cx="568.6" cy="304.4" r="1.7" class="pt"/>
  <text class="lbl" x="615.5" y="241.8">Switch button</text>
  <text class="lbl" x="615.5" y="282.0">SD card slot</text>
  <text class="lbl" x="615.5" y="308.6">Power interface</text>
  <!-- front leaders -->
  <line x1="116" y1="487.3" x2="150.2" y2="487.3" class="dot"/>
  <line x1="150.2" y1="487.3" x2="162" y2="501" stroke="#2a44b8" stroke-width="0.8"/>
  <line x1="116" y1="561.3" x2="204" y2="561.3" class="dot"/>
  <circle cx="205.6" cy="561.6" r="1.6" class="pt"/>
  <line x1="113" y1="635.7" x2="198" y2="635.7" class="dot"/>
  <polyline points="208,456.6 222,445.3 264,445.3" fill="none" stroke="#243382" stroke-width="0.9"/>
  <line x1="264" y1="445.3" x2="296.5" y2="445.3" class="dot"/>
  <line x1="229.5" y1="501.2" x2="268" y2="501.2" stroke="#1f2d78" stroke-width="0.9"/>
  <line x1="268" y1="501.2" x2="296.5" y2="501.2" class="dot"/>
  <line x1="207.3" y1="616.2" x2="218.9" y2="601.6" stroke="#5a70d8" stroke-width="0.8" stroke-dasharray="1.4 1"/>
  <line x1="218.9" y1="601.6" x2="298" y2="601.6" class="dot"/>
  <circle cx="207.1" cy="616.5" r="1.5" class="pt"/>
  <line x1="206.3" y1="675.8" x2="212.9" y2="663.9" stroke="#5a70d8" stroke-width="0.8" stroke-dasharray="1.4 1"/>
  <line x1="212.9" y1="663.9" x2="297.5" y2="663.9" class="dot"/>
  <circle cx="206.1" cy="676.2" r="1.8" fill="#2b50e0"/>
  <!-- front labels -->
  <text class="lbl" x="28.4" y="489.8">Infrared Sensor</text>
  <text class="lbl" x="50.2" y="564.8">Microphone</text>
  <text class="lbl" x="31.4" y="640.6" textLength="79.4" lengthAdjust="spacingAndGlyphs">Indicator Light</text>
  <text class="lbl" x="298.6" y="450.6">PIR Sensor</text>
  <text class="lbl" x="298.6" y="507.0">HD Lens</text>
  <text class="lbl" x="300" y="607.6">Button</text>
  <text class="lbl" x="299.6" y="669.6">Speaker</text>
  <!-- back leaders -->
  <line x1="456" y1="476.2" x2="500" y2="476.2" class="dot"/>
  <line x1="500" y1="476.2" x2="515.4" y2="488.6" stroke="#2a44b8" stroke-width="0.8"/>
  <circle cx="515.8" cy="489" r="1.6" class="pt"/>
  <line x1="570.8" y1="460.8" x2="621" y2="460.8" stroke="#2c46a8" stroke-width="0.9"/>
  <line x1="621" y1="460.8" x2="654" y2="460.8" class="dot"/>
  <line x1="585" y1="493.7" x2="621" y2="493.7" stroke="#2c46a8" stroke-width="0.9"/>
  <line x1="621" y1="493.7" x2="657" y2="493.7" class="dot"/>
  <line x1="446" y1="593.7" x2="490" y2="593.7" class="dot"/>
  <polyline points="490,593.7 544.1,593.7 552.4,606" fill="none" stroke="#2a49b0" stroke-width="0.8"/>
  <path d="M550.4 604.6 H555 L552.7 608.4 Z" class="pt"/>
  <!-- back labels -->
  <text class="lbl" x="422.4" y="481.1">Reset</text>
  <text class="lbl" x="654.6" y="465.6">ON/OFF</text>
  <text class="lbl" x="658" y="499.6">Power Port</text>
  <text class="lbl" x="406.4" y="597.6">Battery</text>
  <text class="lbl" x="406.4" y="610.2">Compartment</text>
</g>
</svg>
</body>
</html>
